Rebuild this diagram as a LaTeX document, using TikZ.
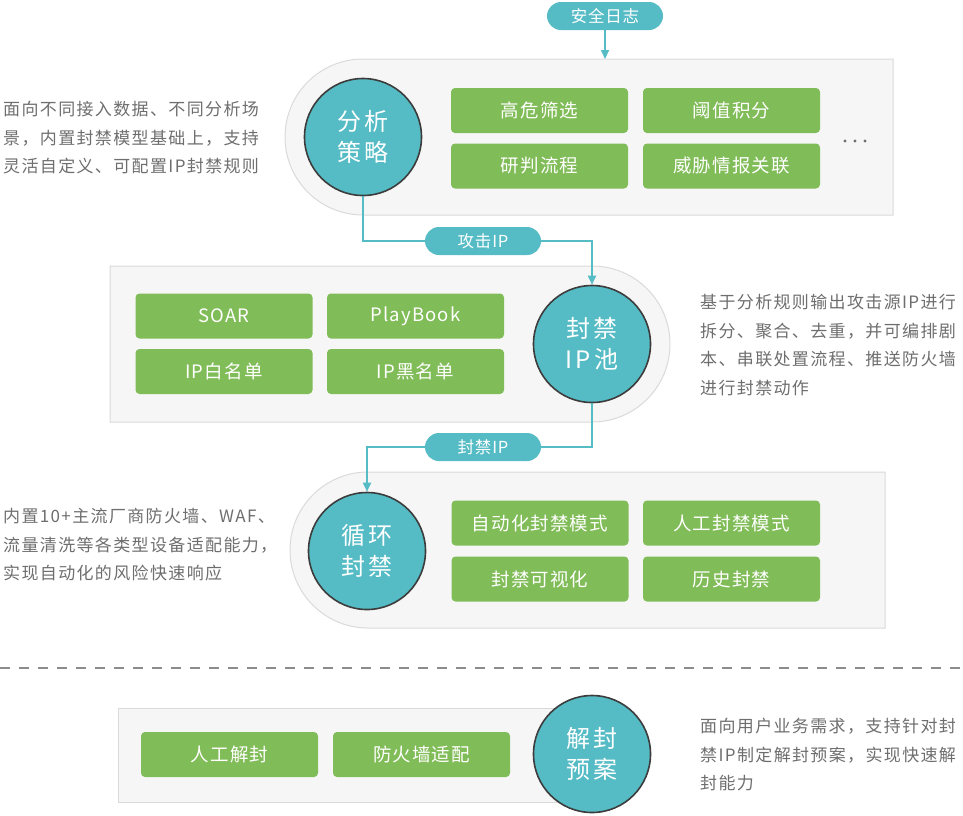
\documentclass[tikz,border=0pt]{standalone}
\usepackage{fontspec}
\setmainfont{Noto Sans CJK SC}
\usetikzlibrary{arrows.meta}
\definecolor{tealc}{RGB}{85,187,197}
\definecolor{greenc}{RGB}{128,188,87}
\definecolor{panelfill}{RGB}{246,246,246}
\definecolor{panelline}{RGB}{218,218,218}
\definecolor{circline}{RGB}{60,60,60}
\definecolor{notec}{RGB}{110,110,110}
\definecolor{dashc}{RGB}{140,140,140}
\begin{document}
\begin{tikzpicture}[x=1pt,y=-1pt,
  panel/.style={draw=panelline, fill=panelfill, line width=1pt},
  gbox/.style={rectangle, rounded corners=4pt, fill=greenc, text=white,
    minimum width=177pt, minimum height=45pt, inner sep=0pt,
    font=\fontsize{18.5}{20}\selectfont\addfontfeature{LetterSpace=6}},
  hub/.style={circle, fill=tealc, draw=circline, line width=1.6pt,
    minimum size=117pt, inner sep=0pt, text=white, align=center,
    font=\fontsize{24}{31}\selectfont\addfontfeature{LetterSpace=14}},
  pill/.style={rectangle, rounded corners=14pt, fill=tealc, text=white,
    minimum width=116pt, minimum height=28pt, inner sep=0pt,
    font=\fontsize{16.5}{18}\selectfont\addfontfeature{LetterSpace=5}},
  wire/.style={draw=tealc, line width=1.8pt},
  tip/.style={-{Triangle[width=8pt,length=9pt]}},
  note/.style={text=notec, align=left, anchor=west, inner sep=0pt,
    font=\fontsize{17}{28.5}\selectfont\addfontfeature{LetterSpace=8}}
]
\useasboundingbox (0,0) rectangle (963,815);

% panels
\path[panel] (893,59) -- (363,59) arc[start angle=270, end angle=90, radius=78] -- (893,215) -- cycle;
\path[panel] (110,266) -- (592,266) arc[start angle=270, end angle=450, radius=78] -- (110,422) -- cycle;
\path[panel] (885,472) -- (368,472) arc[start angle=270, end angle=90, radius=78] -- (885,628) -- cycle;
\path[panel] (118,708) rectangle (600,802);

% separator
\draw[dashc, line width=1.4pt, dash pattern=on 10pt off 9pt] (0,668) -- (963,668);

% green boxes
\node[gbox] (b11) at (539.5,110.5) {高危筛选};
\node[gbox] (b12) at (731.5,110.5) {阈值积分};
\node[gbox] (b13) at (539.5,166) {研判流程};
\node[gbox] (b14) at (731.5,166) {威胁情报关联};
\fill[notec] (845,141) circle (1.7) (855,141) circle (1.7) (865,141) circle (1.7);

\node[gbox] (b21) at (224,316) {SOAR};
\node[gbox] (b22) at (415.5,316) {PlayBook};
\node[gbox] (b23) at (224,371.5) {IP白名单};
\node[gbox] (b24) at (415.5,371.5) {IP黑名单};

\node[gbox] (b31) at (540,523) {自动化封禁模式};
\node[gbox] (b32) at (731.5,523) {人工封禁模式};
\node[gbox] (b33) at (540,579) {封禁可视化};
\node[gbox] (b34) at (731.5,579) {历史封禁};

\node[gbox] (b41) at (229.5,754.5) {人工解封};
\node[gbox] (b42) at (421.5,754.5) {防火墙适配};

% hubs
\node[hub] (c1) at (363,137) {分析\\策略};
\node[hub] (c2) at (592,344) {封禁\\IP池};
\node[hub] (c3) at (367,551) {循环\\封禁};
\node[hub] (c4) at (592,754) {解封\\预案};

% pills
\node[pill] (log) at (605,16) {安全日志};
\node[pill] (ip1) at (483,241) {攻击IP};
\node[pill] (ip2) at (483,447) {封禁IP};
\coordinate (p1top) at (605,59);

% connectors
\draw[wire,tip] (log.south) -- (p1top);
\draw[wire] (c1.south) |- (ip1.west);
\draw[wire,tip] (ip1.east) -| (c2.north);
\draw[wire] (c2.south) |- (ip2.east);
\draw[wire,tip] (ip2.west) -| (c3.north);

% notes
\node[note] (n1) at (3,138) {面向不同接入数据、不同分析场\\景，内置封禁模型基础上，支持\\灵活自定义、可配置IP封禁规则};
\node[note] (n2) at (700,345) {基于分析规则输出攻击源IP进行\\拆分、聚合、去重，并可编排剧\\本、串联处置流程、推送防火墙\\进行封禁动作};
\node[note] (n3) at (3,545) {内置10+主流厂商防火墙、WAF、\\流量清洗等各类型设备适配能力，\\实现自动化的风险快速响应};
\node[note] (n4) at (700,755) {面向用户业务需求，支持针对封\\禁IP制定解封预案，实现快速解\\封能力};
\end{tikzpicture}
\end{document}
